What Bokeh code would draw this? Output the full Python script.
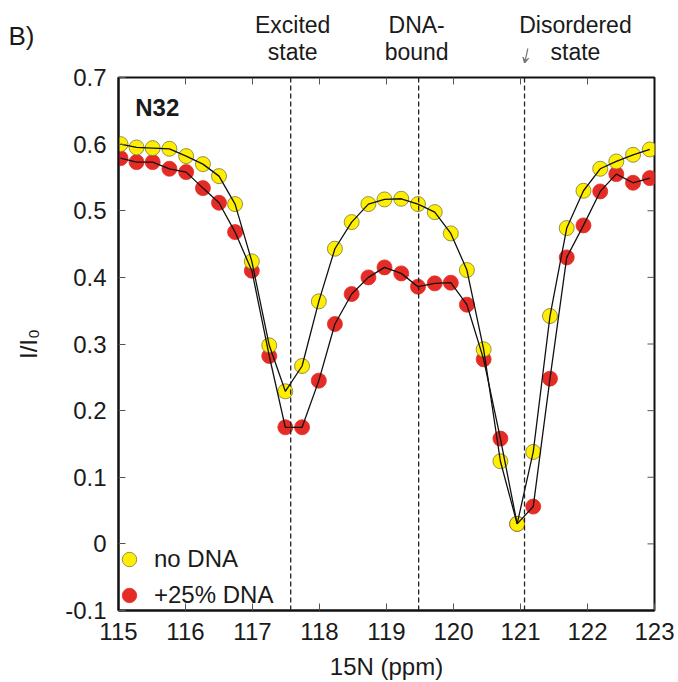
from bokeh.plotting import figure
from bokeh.layouts import column
from bokeh.core.properties import value
from bokeh.models import (Range1d, FixedTicker, Span, Label, Legend, LinearAxis,
                          LegendItem, Arrow, VeeHead, CustomJSTickFormatter)
from bokeh.embed import file_html
from bokeh.resources import INLINE

# ---- data ----
ppm = [115.03, 115.27, 115.51, 115.76, 116.01, 116.26, 116.50, 116.74, 116.99,
       117.25, 117.49, 117.74, 117.99, 118.23, 118.48, 118.73, 118.97, 119.22,
       119.47, 119.72, 119.96, 120.20, 120.45, 120.70, 120.95, 121.19, 121.44,
       121.69, 121.94, 122.19, 122.43, 122.68, 122.93]
no_dna = [0.600, 0.595, 0.594, 0.593, 0.582, 0.570, 0.552, 0.510, 0.424, 0.298,
          0.229, 0.267, 0.364, 0.443, 0.483, 0.510, 0.517, 0.518, 0.510, 0.498,
          0.466, 0.411, 0.292, 0.124, 0.030, 0.138, 0.342, 0.474, 0.530, 0.563,
          0.574, 0.584, 0.592]
dna25 = [0.579, 0.573, 0.573, 0.563, 0.558, 0.534, 0.512, 0.468, 0.410, 0.282,
         0.175, 0.175, 0.245, 0.330, 0.375, 0.400, 0.415, 0.406, 0.386, 0.391,
         0.392, 0.359, 0.277, 0.158, 0.030, 0.056, 0.248, 0.430, 0.478, 0.529,
         0.555, 0.542, 0.549]
state_ppm = [117.57, 119.48, 121.06]
state_line1 = ["Excited", "DNA-", "Disordered"]
state_line2 = ["state", "bound", "state"]
state_label_ppm = [117.60, 119.45, 121.82]
x_ticks = [115, 116, 117, 118, 119, 120, 121, 122, 123]
y_ticks = [-0.1, 0, 0.1, 0.2, 0.3, 0.4, 0.5, 0.6, 0.7]
panel_label = "B)"

FONT = "Liberation Sans"
TXT = "#1a1a1a"
YELLOW = "#FFEE00"
RED = "#E52B25"

W, H = 678, 682
TOP_H = 63
LEFT, RIGHT = 118, 24
X0, X1 = 115, 123
Y0, Y1 = -0.1, 0.7
ppx = (W - LEFT - RIGHT) / (X1 - X0)   # pixels per ppm

# ---------- header figure (texts above the frame) ----------
top = figure(width=W, height=TOP_H, output_backend="svg", toolbar_location=None,
             x_range=Range1d(X0, X1), y_range=Range1d(0, TOP_H),
             x_axis_type=None, y_axis_type=None,
             min_border_left=LEFT, min_border_right=RIGHT,
             min_border_top=0, min_border_bottom=0)
top.outline_line_color = None
top.grid.visible = False
top.background_fill_color = "white"
top.border_fill_color = "white"
top.text(x=state_label_ppm, y=[39] * 3, text=state_line1, text_font=value(FONT),
         text_font_size="23px", text_color=TXT, text_align="center", text_baseline="middle")
top.text(x=state_label_ppm, y=[12] * 3, text=state_line2, text_font=value(FONT),
         text_font_size="23px", text_color=TXT, text_align="center", text_baseline="middle")
# panel letter "B)" drawn as the single tick label of an invisible left axis
lab_axis = LinearAxis(ticker=FixedTicker(ticks=[28]), major_label_overrides={28: panel_label},
                      axis_line_color=None, major_tick_line_color=None,
                      minor_tick_line_color=None, major_label_standoff=78,
                      major_label_text_font=FONT, major_label_text_font_size="26px",
                      major_label_text_color=TXT)
top.add_layout(lab_axis, "left")
top.add_layout(Arrow(x_start=state_ppm[2] + 0.05, y_start=15, x_end=state_ppm[2],
                     y_end=0, line_color="#777777", line_width=1.2,
                     end=VeeHead(size=6, line_color="#777777", fill_color="#777777")))

# ---------- main figure ----------
p = figure(width=W, height=H - TOP_H, output_backend="svg", toolbar_location=None,
           x_range=Range1d(X0, X1), y_range=Range1d(Y0, Y1),
           min_border_left=LEFT, min_border_right=RIGHT, min_border_top=14,
           min_border_bottom=69)
p.background_fill_color = "white"
p.border_fill_color = "white"
p.grid.visible = False
p.outline_line_color = "#111111"
p.outline_line_width = 2

yfmt = CustomJSTickFormatter(code="""
const s = tick.toFixed(1);
return (s == "0.0" || s == "-0.0") ? "0" : s;
""")

p.xaxis.ticker = FixedTicker(ticks=x_ticks)
p.xaxis.axis_label = "15N (ppm)"
p.yaxis.ticker = FixedTicker(ticks=y_ticks)
p.yaxis.formatter = yfmt
p.yaxis.axis_label = "I/I\u2080"

for ax in list(p.xaxis) + list(p.yaxis):
    ax.major_tick_in = 7
    ax.major_tick_out = 0
    ax.minor_tick_line_color = None
    ax.axis_line_color = "#111111"
    ax.axis_line_width = 2
    ax.major_tick_line_color = "#555555"
    ax.major_tick_line_width = 1
    ax.major_label_text_font = FONT
    ax.major_label_text_font_size = "24px"
    ax.major_label_text_color = TXT
    ax.axis_label_text_font = FONT
    ax.axis_label_text_font_size = "24px"
    ax.axis_label_text_font_style = "normal"
    ax.axis_label_text_color = TXT
p.xaxis.major_label_standoff = 12
p.xaxis.axis_label_standoff = 10
p.yaxis.major_label_standoff = 12
p.yaxis.axis_label_standoff = 20

# top & right inward ticks
tick_dx = 7 / ppx
tick_dy = 7 * (Y1 - Y0) / 536
inner_x = x_ticks[1:-1]
inner_y = y_ticks[1:-1]
p.segment(x0=inner_x, y0=[Y1] * len(inner_x), x1=inner_x, y1=[Y1 - tick_dy] * len(inner_x),
          line_color="#555555", line_width=1)
p.segment(x0=[X1] * len(inner_y), y0=inner_y, x1=[X1 - tick_dx] * len(inner_y), y1=inner_y,
          line_color="#555555", line_width=1)

# dashed state lines
for xv in state_ppm:
    p.add_layout(Span(location=xv, dimension="height", line_color="#222222",
                      line_width=1.3, line_dash="5 3"))

r_red = p.scatter(ppm, dna25, size=15, fill_color=RED, line_color=RED, line_width=0.8)
r_yel = p.scatter(ppm, no_dna, size=15, fill_color=YELLOW, line_color="#7a7a3a", line_width=0.8)
p.line(ppm, no_dna, line_color="#111111", line_width=1.3)
p.line(ppm, dna25, line_color="#111111", line_width=1.3)

legend = Legend(items=[LegendItem(label="no DNA", renderers=[r_yel]),
                       LegendItem(label="+25% DNA", renderers=[r_red])],
                location=(-7, -3), background_fill_alpha=0, border_line_color=None,
                label_text_font=FONT, label_text_font_size="24px", label_text_color=TXT,
                glyph_width=36, glyph_height=36, spacing=-5, padding=2, margin=0,
                label_standoff=7)
p.add_layout(legend)

p.add_layout(Label(x=115.25, y=0.655, text="N32", text_font=FONT, text_font_size="24px",
                   text_font_style="bold", text_color=TXT, text_baseline="middle"))

open("out.html", "w").write(file_html(column(top, p, spacing=0), INLINE))
